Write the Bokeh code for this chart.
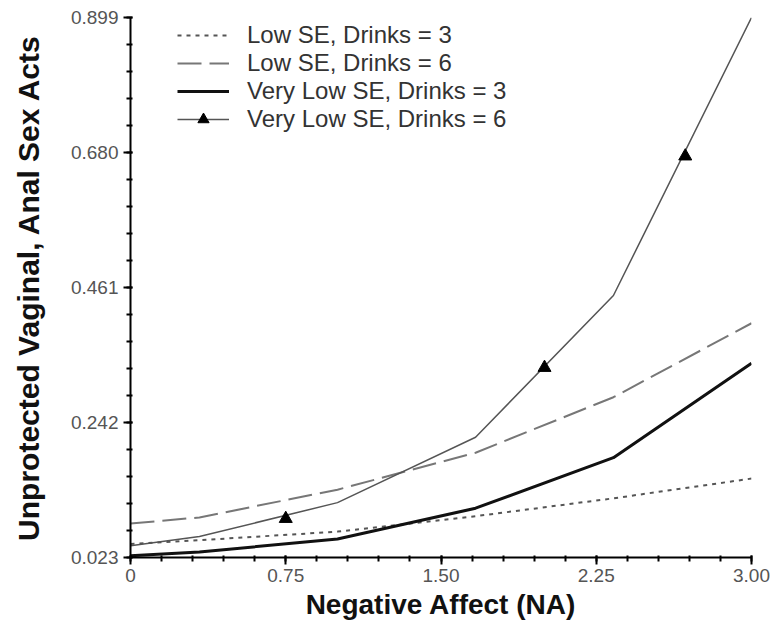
from bokeh.plotting import figure
from bokeh.models import FixedTicker, Range1d, PrintfTickFormatter, Legend, LegendItem
from bokeh.embed import file_html
from bokeh.resources import INLINE

# ---- data ----
na = [0.0, 0.333, 1.0, 1.667, 2.333, 3.0]
low_se_3 = [0.045, 0.051, 0.065, 0.090, 0.119, 0.151]
low_se_6 = [0.078, 0.088, 0.133, 0.193, 0.283, 0.403]
vlow_se_3 = [0.026, 0.032, 0.053, 0.103, 0.185, 0.338]
vlow_se_6 = [0.042, 0.057, 0.112, 0.218, 0.448, 0.899]
marker_na = [0.75, 2.0, 2.68]
marker_vlow_se_6 = [0.086, 0.331, 0.674]

x_ticks = [0.0, 0.75, 1.5, 2.25, 3.0]
x_tick_labels = ["0", "0.75", "1.50", "2.25", "3.00"]
y_ticks = [0.023, 0.242, 0.461, 0.680, 0.899]

series_labels = ["Low SE, Drinks = 3", "Low SE, Drinks = 6",
                 "Very Low SE, Drinks = 3", "Very Low SE, Drinks = 6"]

FONT = "Liberation Sans"

p = figure(width=771, height=629, output_backend="svg", toolbar_location=None,
           x_range=Range1d(0, 3.0), y_range=Range1d(0.023, 0.899),
           min_border_left=130, min_border_top=17, min_border_right=20,
           min_border_bottom=72)
p.outline_line_color = None
p.xgrid.visible = False
p.ygrid.visible = False
p.background_fill_color = "white"

r1 = p.line(na, low_se_3, line_color="#555555", line_width=2, line_dash="4 5")
r2 = p.line(na, low_se_6, line_color="#777777", line_width=2, line_dash="24 8")
r3 = p.line(na, vlow_se_3, line_color="#111111", line_width=3)
r4 = p.line(na, vlow_se_6, line_color="#555555", line_width=1.5)
r5 = p.scatter(marker_na, marker_vlow_se_6, marker="triangle", size=13,
               fill_color="black", line_color="black")

legend = Legend(items=[
    LegendItem(label=series_labels[0], renderers=[r1]),
    LegendItem(label=series_labels[1], renderers=[r2]),
    LegendItem(label=series_labels[2], renderers=[r3]),
    LegendItem(label=series_labels[3], renderers=[r4, r5]),
], location=(47, 424), padding=0, spacing=0, margin=0,
    glyph_width=52, glyph_height=28, label_height=28, label_standoff=18,
    label_text_font=FONT, label_text_font_size="24px", label_text_color="#333333",
    border_line_alpha=0, background_fill_alpha=0)
p.add_layout(legend, "center")

# x axis
xa = p.xaxis[0]
minor_x = [i * 0.15 for i in range(21)]
xa.ticker = FixedTicker(ticks=x_ticks, minor_ticks=minor_x)
xa.major_label_overrides = dict(zip(x_ticks, x_tick_labels))
xa.axis_label = "Negative Affect (NA)"

# y axis
ya = p.yaxis[0]
minor_y = [0.023 + i * 0.0438 for i in range(21)]
ya.ticker = FixedTicker(ticks=y_ticks, minor_ticks=minor_y)
ya.formatter = PrintfTickFormatter(format="%.3f")
ya.axis_label = "Unprotected Vaginal, Anal Sex Acts"

for ax in (xa, ya):
    ax.axis_line_color = "black"
    ax.axis_line_width = 2
    ax.major_tick_line_color = "black"
    ax.major_tick_line_width = 2
    ax.minor_tick_line_color = "black"
    ax.minor_tick_line_width = 2
    ax.major_tick_out = 7
    ax.major_tick_in = 2
    ax.minor_tick_out = 4
    ax.minor_tick_in = 2
    ax.major_label_text_font = FONT
    ax.major_label_text_font_size = "19px"
    ax.major_label_text_color = "#555555"
    ax.axis_label_text_font = FONT
    ax.axis_label_text_font_style = "bold"
    ax.axis_label_text_color = "#111111"

xa.axis_label_text_font_size = "28px"
ya.axis_label_text_font_size = "30px"
xa.major_label_standoff = 4
xa.axis_label_standoff = 4
ya.major_label_standoff = 5
ya.axis_label_standoff = 23

open("out.html", "w").write(file_html(p, INLINE))
